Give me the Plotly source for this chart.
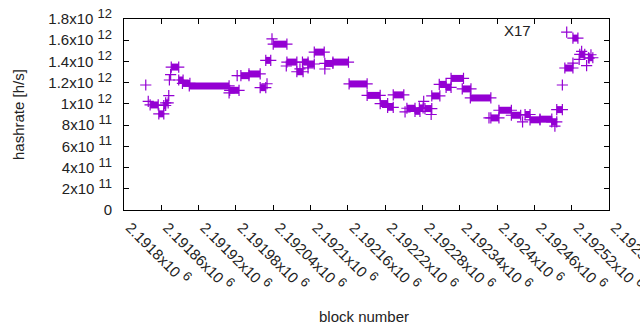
import plotly.graph_objects as go

COLOR = "#9400D3"

# runs of consecutive blocks with (near) constant hashrate
seg_start = [2191842, 2191856, 2191864, 2191867, 2191876, 2191888, 2191894, 2191905,
             2191970, 2191988, 2192001, 2192019, 2192028, 2192040, 2192062, 2192078,
             2192087, 2192096, 2192106, 2192123, 2192136, 2192162, 2192191, 2192212,
             2192224, 2192233, 2192255, 2192268, 2192275, 2192284, 2192295, 2192307,
             2192318, 2192326, 2192344, 2192357, 2192390, 2192403, 2192423, 2192445,
             2192453, 2192469, 2192488, 2192496, 2192509, 2192522, 2192533, 2192547]
seg_end = [2191855, 2191864, 2191867, 2191871, 2191888, 2191895, 2191906, 2191969,
           2191985, 2192001, 2192019, 2192028, 2192036, 2192062, 2192078, 2192088,
           2192096, 2192106, 2192122, 2192136, 2192161, 2192191, 2192212, 2192224,
           2192233, 2192250, 2192268, 2192276, 2192281, 2192295, 2192308, 2192318,
           2192326, 2192346, 2192358, 2192390, 2192403, 2192423, 2192438, 2192453,
           2192469, 2192488, 2192496, 2192505, 2192522, 2192530, 2192541, 2192554]
seg_value = [0.99e12, 0.906e12, 0.985e12, 1.01e12, 1.347e12, 1.225e12, 1.193e12, 1.169e12,
             1.128e12, 1.266e12, 1.282e12, 1.153e12, 1.41e12, 1.563e12, 1.394e12, 1.303e12,
             1.394e12, 1.376e12, 1.488e12, 1.381e12, 1.394e12, 1.188e12, 1.08e12, 1.003e12,
             0.968e12, 1.085e12, 0.959e12, 0.93e12, 0.962e12, 0.956e12, 1.075e12, 1.184e12,
             1.156e12, 1.24e12, 1.141e12, 1.056e12, 0.868e12, 0.94e12, 0.893e12, 0.9e12,
             0.85e12, 0.856e12, 0.83e12, 0.946e12, 1.338e12, 1.62e12, 1.466e12, 1.435e12]

# isolated blocks
pt_block = [2191835, 2191839, 2191872, 2191873, 2191875, 2191969, 2191982, 2192030,
            2192038, 2192061, 2192083, 2192096, 2192123, 2192252, 2192282, 2192294,
            2192387, 2192441, 2192493, 2192505, 2192512, 2192522, 2192532, 2192536,
            2192544, 2192551, 2192548]
pt_value = [1.178e12, 1.024e12, 1.078e12, 1.225e12, 1.275e12, 1.103e12, 1.266e12, 1.19e12,
            1.613e12, 1.357e12, 1.33e12, 1.34e12, 1.329e12, 0.925e12, 1.024e12, 0.9e12,
            0.868e12, 0.83e12, 0.79e12, 1.178e12, 1.676e12, 1.385e12, 1.42e12, 1.494e12,
            1.36e12, 1.463e12, 1.43e12]

x_ticks = [2191800 + 60 * i for i in range(14)]
x_mant = ["2.1918", "2.19186", "2.19192", "2.19198", "2.19204", "2.1921", "2.19216",
          "2.19222", "2.19228", "2.19234", "2.1924", "2.19246", "2.19252", "2.19258"]
x_exp = ["6"] * 14
y_ticks = [0, 2e11, 4e11, 6e11, 8e11, 1e12, 1.2e12, 1.4e12, 1.6e12, 1.8e12]
y_mant = ["0", "2", "4", "6", "8", "1", "1.2", "1.4", "1.6", "1.8"]
y_exp = ["", "11", "11", "11", "11", "12", "12", "12", "12", "12"]


def sci(m, e):
    if not e:
        return m
    return m + "x10 <sup><span style='font-size:13px'>" + e + "</span></sup>"


x_labels = [sci(m, e) for m, e in zip(x_mant, x_exp)]
y_labels = [sci(m, e) for m, e in zip(y_mant, y_exp)]

sx, sy = [], []
for s, e, v in zip(seg_start, seg_end, seg_value):
    sx += [s, e, None]
    sy += [v, v, None]

mk = dict(symbol="cross-thin-open", size=8, color=COLOR, line=dict(color=COLOR, width=1.2))
fig = go.Figure()
fig.add_trace(go.Scatter(x=sx, y=sy, mode="lines+markers",
                         line=dict(color=COLOR, width=7), marker=mk,
                         showlegend=False, connectgaps=False))
fig.add_trace(go.Scatter(x=pt_block, y=pt_value, mode="markers", marker=mk,
                         showlegend=False))

font = dict(family="Liberation Sans, Arial, sans-serif", size=15, color="#222")
axis_common = dict(showline=True, linecolor="black", linewidth=1, mirror="ticks",
                   ticks="inside", ticklen=5, tickcolor="black", showgrid=False,
                   zeroline=False, tickfont=font, automargin=False)

L, R, T, B = 124, 609, 19, 210
W = R - L
H = B - T


def px_x(p):
    return (p - L) / W


def px_y(p):
    return (B - p) / H


fig.update_layout(
    width=640, height=330,
    margin=dict(l=L, r=640 - R, t=T, b=330 - B),
    paper_bgcolor="white", plot_bgcolor="white",
    font=font,
    xaxis=dict(range=[2191800, 2192580.01], tickvals=x_ticks, ticktext=x_labels,
               tickangle=45, ticklabelstandoff=2, ticklabelshift=6,
               ticklabeloverflow="allow", **axis_common),
    yaxis=dict(range=[0, 1.8e12], tickvals=y_ticks, ticktext=y_labels,
               ticklabelstandoff=8, **axis_common),
    annotations=[
        dict(text="X17", x=px_x(533), y=px_y(31), xref="paper", yref="paper",
             showarrow=False, font=font, xanchor="right", yanchor="middle"),
        dict(text="hashrate [h/s]", x=px_x(18), y=px_y(115), xref="paper", yref="paper",
             showarrow=False, font=font, textangle=-90, xanchor="center", yanchor="middle"),
        dict(text="block number", x=px_x(364), y=px_y(316), xref="paper", yref="paper",
             showarrow=False, font=font, xanchor="center", yanchor="middle"),
    ],
)

fig.write_html("out.html", config={"displayModeBar": False},
               post_script="document.body.style.margin='0';document.body.style.overflow='hidden';")
